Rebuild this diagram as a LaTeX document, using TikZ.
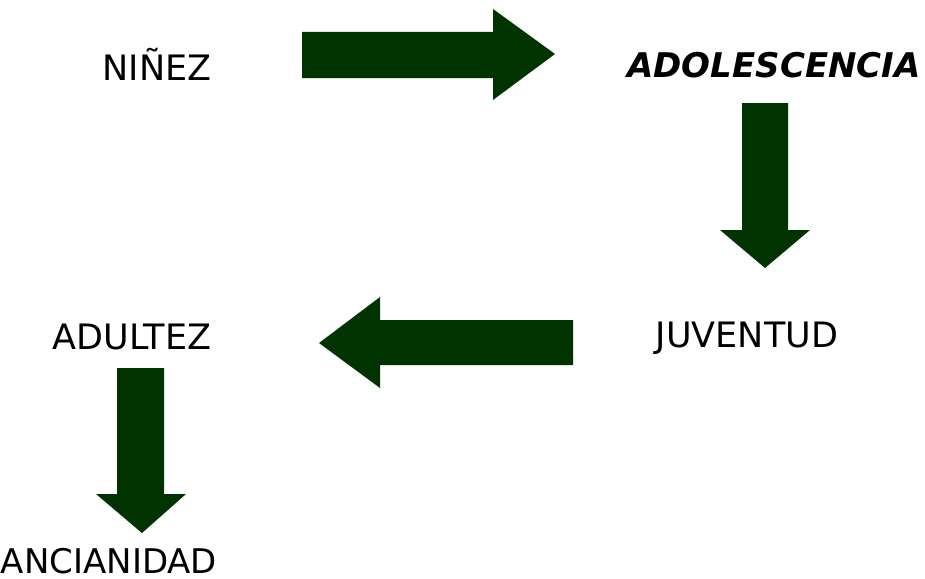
\documentclass[tikz,border=0pt]{standalone}
\usepackage{fontspec}
\setmainfont{DejaVu Sans}
\definecolor{arrowgreen}{RGB}{0,51,0}
\begin{document}
\begin{tikzpicture}[x=1pt,y=-1pt,
  lbl/.style={anchor=base,inner sep=0pt,text depth=0pt,font=\fontsize{35}{38}\selectfont},
  blk/.style={fill=arrowgreen,draw=none}]
\useasboundingbox (0,0) rectangle (925,578);
\node[lbl] (ninez) at (157,81) {NIÑEZ};
\node[lbl,font=\fontsize{34}{37}\selectfont\bfseries\itshape] (adol) at (774,77) {ADOLESCENCIA};
\node[lbl] (juv) at (747,347) {JUVENTUD};
\node[lbl] (adul) at (132,349) {ADULTEZ};
\node[lbl,font=\fontsize{34}{37}\selectfont] (anc) at (109,573) {ANCIANIDAD};
% right arrow
\fill[blk] (302,32) -- (493,32) -- (493,9) -- (555,54) -- (493,100) -- (493,78) -- (302,78) -- cycle;
% down arrow
\fill[blk] (742,103) -- (788,103) -- (788,230) -- (810,230) -- (765,268) -- (720,230) -- (742,230) -- cycle;
% left arrow
\fill[blk] (573,320) -- (380,320) -- (380,297) -- (319,343) -- (380,388) -- (380,365) -- (573,365) -- cycle;
% down arrow
\fill[blk] (117,368) -- (164,368) -- (164,494) -- (186,494) -- (142,533) -- (96,494) -- (117,494) -- cycle;
\end{tikzpicture}
\end{document}
